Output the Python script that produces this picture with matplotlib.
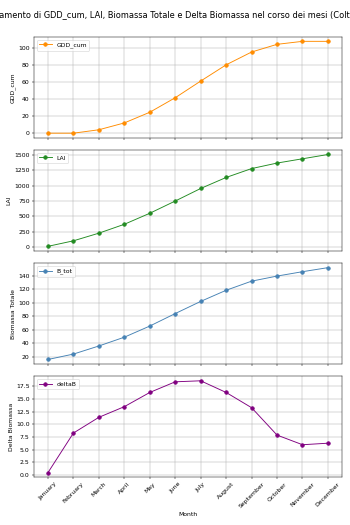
import matplotlib
matplotlib.use("Agg")
import matplotlib.pyplot as plt

months = ["January", "February", "March", "April", "May", "June", "July",
          "August", "September", "October", "November", "December"]
gdd_cum = [0, 0, 4, 12, 24.5, 41.5, 61, 80, 95, 104, 107.5, 107.5]
lai = [10, 100, 225, 370, 550, 750, 955, 1135, 1280, 1370, 1440, 1510]
b_tot = [16, 24, 36, 49, 65.5, 84, 102, 118.5, 132, 139.5, 146, 152]
delta_b = [0.5, 8.3, 11.4, 13.5, 16.3, 18.4, 18.6, 16.3, 13.3, 7.9, 6.0, 6.3]

series = [
    (gdd_cum, "GDD_cum", "darkorange", "GDD_cum"),
    (lai, "LAI", "forestgreen", "LAI"),
    (b_tot, "B_tot", "steelblue", "Biomassa Totale"),
    (delta_b, "deltaB", "purple", "Delta Biomassa"),
]

fig, axes = plt.subplots(4, 1, figsize=(8, 12), dpi=43.75, sharex=True)
fig.suptitle("Andamento di GDD_cum, LAI, Biomassa Totale e Delta Biomassa nel corso dei mesi (Coltura)",
             fontsize=13.6)

for ax, (vals, label, color, ylabel) in zip(axes, series):
    ax.plot(months, vals, marker="o", color=color, label=label)
    ax.set_ylabel(ylabel)
    ax.legend(loc="upper left")
    ax.grid(True)

axes[-1].set_xlabel("Month")
axes[-1].tick_params(axis="x", rotation=45)

fig.subplots_adjust(left=0.097, right=0.977, top=0.93, bottom=0.091, hspace=0.12)
plt.savefig("out.png")
